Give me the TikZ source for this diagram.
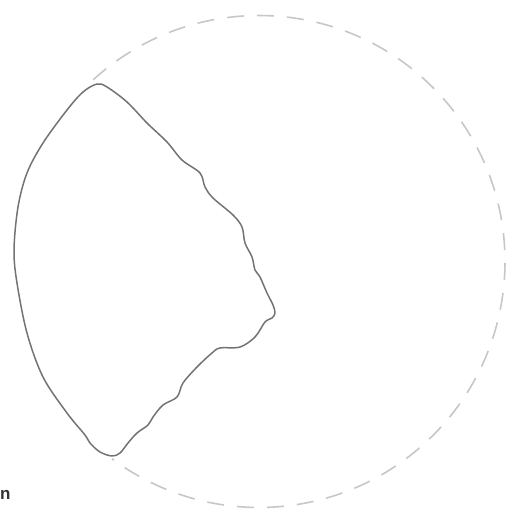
\documentclass[tikz,border=0pt]{standalone}
\usepackage{fontspec}
\newfontfamily\labelfont{Liberation Sans}
\begin{document}
\begin{tikzpicture}[x=1pt,y=-1pt,
  guide/.style={draw=black!22,line width=1.6pt,dash pattern=on 17pt off 13pt},
  outline/.style={draw=black!55,line width=1.5pt,line join=round},
  lbl/.style={font=\labelfont\bfseries\fontsize{17}{18}\selectfont,text=black!80,inner sep=0pt,anchor=base west}]
\useasboundingbox (0,0) rectangle (512,517);
\coordinate (c) at (259,261.5);
\draw[guide] ([shift={(132.4:246pt)}]c) arc[start angle=132.4,end angle=-126.7,radius=246pt];
\draw[outline] plot[smooth cycle,tension=0.55] coordinates {
 (97,84) (107,87) (127,102) (147,123) (167,142) (182,160) (200,173) (205,187)
 (213,198) (233,215) (242,227) (245,243) (252,257) (255,270) (260,277) (267,293)
 (273,305) (275,313) (272,318) (265,322) (255,337) (240,347) (220,348) (212,353)
 (197,367) (183,383) (177,397) (163,405) (153,417) (148,425) (137,433) (128,443)
 (120,453) (112,456) (100,452) (90,443) (85,435) (67,413) (43,377) (27,333)
 (17,283) (14,250) (18,207) (27,173) (43,143) (67,110) (83,92)};
\node[lbl] (tag) at (0,499) {n};
\end{tikzpicture}
\end{document}
